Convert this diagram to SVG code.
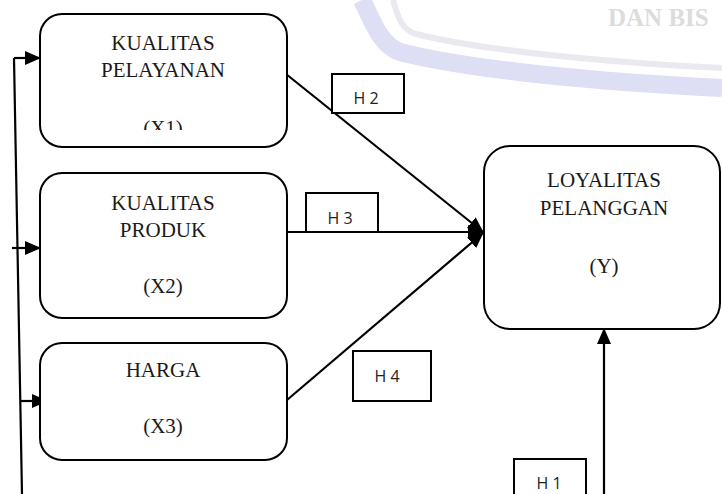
<svg xmlns="http://www.w3.org/2000/svg" width="722" height="494" viewBox="0 0 722 494">
  <style>
    .node { fill: #ffffff; stroke: #000000; stroke-width: 2; }
    .lbl { font-family: "Liberation Serif", "Times New Roman", serif; font-size: 21px; fill: #1a1a1a; text-anchor: middle; }
    .hbox { fill: #ffffff; stroke: #000000; stroke-width: 2; }
    .htxt { font-family: "Open Sans", "DejaVu Sans", sans-serif; font-size: 16px; fill: #222222; text-anchor: middle; }
    .conn { stroke: #000000; stroke-width: 2.2; fill: none; }
    .wm { font-family: "Liberation Serif", serif; font-weight: bold; font-size: 25px; fill: #dcdcdc; }
  </style>
  <defs>
    <marker id="ah" viewBox="0 0 16 14" refX="15" refY="7" markerWidth="16" markerHeight="14" markerUnits="userSpaceOnUse" orient="auto">
      <path d="M0,0 L16,7 L0,14 z" fill="#000000"/>
    </marker>
    <clipPath id="clipX1">
      <rect x="40" y="14" width="247" height="116"/>
    </clipPath>
  </defs>
  <rect x="0" y="0" width="722" height="494" fill="#ffffff"/>

  <g id="watermark">
    <path d="M362,0 C372,20 380,45 400,52 C470,70 600,82 722,88" fill="none" stroke="#dedef4" stroke-width="18"/>
    <path d="M393,0 C398,18 402,30 416,34 C480,50 600,62 722,68" fill="none" stroke="#e9e9ef" stroke-width="6"/>
    <text class="wm" x="608" y="26">DAN BIS</text>
  </g>

  <g id="connectors">
    <path class="conn" d="M14,58 L22,494"/>
    <path class="conn" d="M14,58 L40,58" marker-end="url(#ah)"/>
    <path class="conn" d="M12,248 L40,248" marker-end="url(#ah)"/>
    <path class="conn" d="M20,401 L47,401" marker-end="url(#ah)"/>
    <path class="conn" d="M286,74 L483,232" marker-end="url(#ah)"/>
    <path class="conn" d="M287,232 L483,232" marker-end="url(#ah)"/>
    <path class="conn" d="M287,400 L483,233" marker-end="url(#ah)"/>
    <path class="conn" d="M604,494 L604,329" marker-end="url(#ah)"/>
  </g>

  <g id="x1">
    <rect class="node" x="40" y="14" width="247" height="133" rx="22" ry="22"/>
    <text class="lbl" x="163" y="50">KUALITAS</text>
    <text class="lbl" x="163" y="77">PELAYANAN</text>
    <g clip-path="url(#clipX1)">
      <text class="lbl" x="163" y="135">(X1)</text>
    </g>
  </g>

  <g id="x2">
    <rect class="node" x="40" y="173" width="247" height="145" rx="22" ry="22"/>
    <text class="lbl" x="163" y="210">KUALITAS</text>
    <text class="lbl" x="163" y="237">PRODUK</text>
    <text class="lbl" x="163" y="293">(X2)</text>
  </g>

  <g id="x3">
    <rect class="node" x="40" y="343" width="247" height="117" rx="22" ry="22"/>
    <text class="lbl" x="163" y="377">HARGA</text>
    <text class="lbl" x="163" y="433">(X3)</text>
  </g>

  <g id="y">
    <rect class="node" x="484" y="146" width="236" height="183" rx="26" ry="26"/>
    <text class="lbl" x="604" y="187">LOYALITAS</text>
    <text class="lbl" x="604" y="215">PELANGGAN</text>
    <text class="lbl" x="604" y="273">(Y)</text>
  </g>

  <g id="h2">
    <rect class="hbox" x="332" y="74" width="72" height="39"/>
    <text class="htxt" x="366" y="104">H 2</text>
  </g>
  <g id="h3">
    <rect class="hbox" x="306" y="193" width="72" height="39"/>
    <text class="htxt" x="340" y="224">H 3</text>
  </g>
  <g id="h4">
    <rect class="hbox" x="353" y="351" width="78" height="50"/>
    <text class="htxt" x="387" y="382">H 4</text>
  </g>
  <g id="h1">
    <rect class="hbox" x="514" y="459" width="72" height="40"/>
    <text class="htxt" x="549" y="489">H 1</text>
  </g>
</svg>
